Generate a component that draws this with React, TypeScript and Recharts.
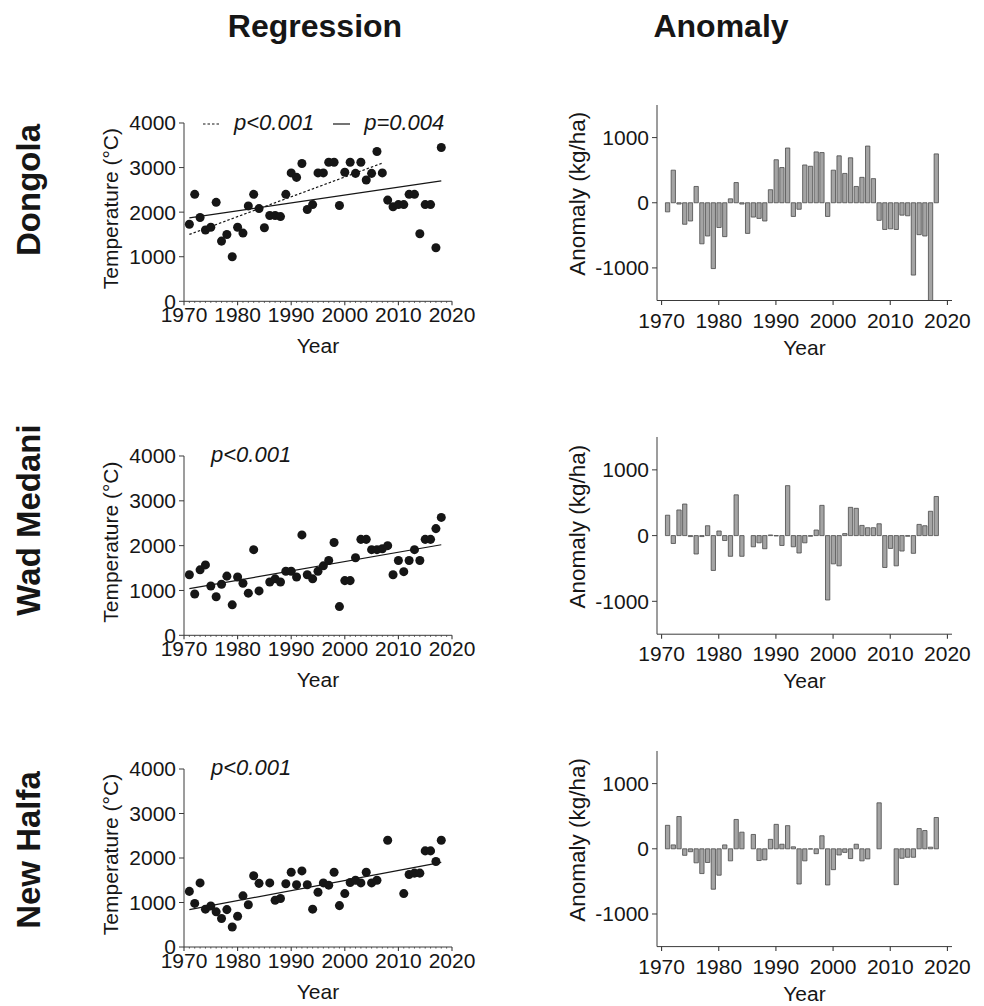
import React from 'react';
import { ComposedChart, BarChart, Scatter, Line, Bar, XAxis, YAxis, Legend } from 'recharts';

const FONT = '"Liberation Sans", Arial, Helvetica, sans-serif';

// ---------- categories ----------
const years = [
  1971, 1972, 1973, 1974, 1975, 1976, 1977, 1978, 1979, 1980,
  1981, 1982, 1983, 1984, 1985, 1986, 1987, 1988, 1989, 1990,
  1991, 1992, 1993, 1994, 1995, 1996, 1997, 1998, 1999, 2000,
  2001, 2002, 2003, 2004, 2005, 2006, 2007, 2008, 2009, 2010,
  2011, 2012, 2013, 2014, 2015, 2016, 2017, 2018,
];
const decadeTicks = [1970, 1980, 1990, 2000, 2010, 2020];
const tempTicks = [0, 1000, 2000, 3000, 4000];
const anomalyTicks = [-1000, 0, 1000];

const columnTitles = ['Regression', 'Anomaly'];
const stations = ['Dongola', 'Wad Medani', 'New Halfa'];

// ---------- series values ----------
const dongolaTemp = [
  1730, 2400, 1880, 1600, 1660, 2220, 1350, 1500, 1000, 1660,
  1530, 2140, 2400, 2080, 1650, 1925, 1925, 1900, 2400, 2880,
  2780, 3090, 2060, 2170, 2880, 2880, 3120, 3120, 2150, 2895,
  3120, 2870, 3120, 2720, 2870, 3360, 2880, 2270, 2120, 2170,
  2170, 2400, 2400, 1515, 2170, 2170, 1200, 3450,
];
const wadMedaniTemp = [
  1350, 920, 1460, 1570, 1100, 860, 1140, 1320, 680, 1300,
  1160, 940, 1910, 990, null, 1190, 1260, 1190, 1430, 1430,
  1300, 2240, 1350, 1260, 1430, 1550, 1670, 2070, 640, 1220,
  1220, 1730, 2140, 2140, 1910, 1910, 1930, 2000, 1350, 1670,
  1420, 1670, 1910, 1670, 2140, 2140, 2380, 2630,
];
const newHalfaTemp = [
  1250, 980, 1440, 850, 920, 790, 640, 840, 450, 690,
  1150, 950, 1600, 1430, null, 1440, 1050, 1090, 1420, 1680,
  1400, 1710, 1400, 850, 1230, 1440, 1390, 1680, 930, 1200,
  1450, 1500, 1440, 1680, 1440, 1500, null, 2400, null, null,
  1200, 1630, 1660, 1660, 2160, 2160, 1920, 2400,
];

const dongolaAnomaly = [
  -140, 500, -20, -330, -280, 250, -630, -510, -1010, -380,
  -520, 60, 310, -20, -470, -220, -240, -280, 200, 660,
  540, 840, -210, -100, 580, 560, 780, 770, -210, 500,
  720, 450, 690, 250, 390, 870, 370, -270, -410, -400,
  -410, -190, -200, -1110, -490, -510, -1500, 750,
];
const wadMedaniAnomaly = [
  310, -120, 390, 480, -15, -280, -15, 150, -530, 70,
  -75, -315, 620, -315, null, -170, -110, -200, 10, -5,
  -150, 760, -170, -265, -110, -10, 85, 460, -980, -430,
  -460, 30, 430, 415, 155, 120, 120, 180, -485, -195,
  -460, -235, -10, -270, 170, 150, 370, 595,
];
const newHalfaAnomaly = [
  360, 60, 495, -100, -45, -215, -380, -210, -620, -405,
  60, -185, 450, 255, null, 220, -180, -170, 145, 375,
  70, 355, 30, -540, -185, -5, -75, 200, -555, -320,
  -95, -55, -150, 70, -185, -155, null, 705, null, null,
  -550, -145, -130, -130, 310, 280, 25, 480,
];

// regression lines (fitted end points)
const dongolaFullYears = [1971, 2018];
const dongolaFullValues = [1870, 2700];
const dongolaEarlyYears = [1971, 2007];
const dongolaEarlyValues = [1500, 3100];
const wadMedaniFitYears = [1971, 2018];
const wadMedaniFitValues = [1040, 2020];
const newHalfaFitYears = [1971, 2018];
const newHalfaFitValues = [840, 1900];

// ---------- helpers ----------
const toPoints = (xs: number[], vs: (number | null)[]) =>
  xs.map((x, i) => ({ year: x, value: vs[i] })).filter((d) => d.value !== null);

const minorYears = Array.from({ length: 51 }, (_, i) => 1970 + i);

const INK = '#161616';
const AXIS = '#3a3a3a';

type TrendLine = { name: string; data: { year: number; value: number | null }[]; dash?: string; icon: boolean };

const ScatterXTick = (props: any) => {
  const { x, y, payload } = props;
  const v = payload.value;
  const major = v % 10 === 0;
  return (
    <g>
      <line x1={x} x2={x} y1={y} y2={y + (major ? 4 : 1.6)} stroke={AXIS} strokeWidth={major ? 1.1 : 0.8} />
      {major && (
        <text x={x} y={y + 20.5} textAnchor="middle" fontSize={21} fill={INK} fontFamily={FONT}>
          {v}
        </text>
      )}
    </g>
  );
};

const AnomalyXTick = (props: any) => {
  const { x, y, payload } = props;
  return (
    <g>
      <line x1={x} x2={x} y1={y} y2={y + 4.5} stroke={AXIS} strokeWidth={1.1} />
      <text x={x} y={y + 27} textAnchor="middle" fontSize={21} fill={INK} fontFamily={FONT}>
        {payload.value}
      </text>
    </g>
  );
};

const yLabel = (text: string, dx: number, dy: number, size: number) => (props: any) => {
  const vb = props.viewBox || {};
  const x = (vb.x || 0) + dx;
  const y = (vb.y || 0) + (vb.height || 0) / 2 + dy;
  return (
    <text x={x} y={y} transform={`rotate(-90 ${x} ${y})`} textAnchor="middle" fontSize={size} fill={INK} fontFamily={FONT}>
      {text}
    </text>
  );
};

const xLabel = (text: string, dy: number) => (props: any) => {
  const vb = props.viewBox || {};
  const x = (vb.x || 0) + (vb.width || 0) / 2;
  const y = (vb.y || 0) + dy;
  return (
    <text x={x} y={y} textAnchor="middle" fontSize={21} fill={INK} fontFamily={FONT}>
      {text}
    </text>
  );
};

const makeLegend = (lines: TrendLine[]) => (props: any) => {
  const payload = ((props.payload || []) as any[]).filter((e) => lines.some((l) => l.name === e.value));
  return (
    <div
      style={{
        display: 'flex',
        alignItems: 'center',
        fontFamily: FONT,
        fontStyle: 'italic',
        fontSize: 22,
        lineHeight: '22px',
        color: INK,
        whiteSpace: 'nowrap',
      }}
    >
      {payload.map((entry, i) => {
        const st = lines.find((l) => l.name === entry.value);
        return (
          <div key={i} style={{ display: 'flex', alignItems: 'center', marginRight: 19 }}>
            {st && st.icon && (
              <svg width={17} height={6} style={{ marginRight: 14, marginTop: 2 }}>
                <line x1={0} y1={3} x2={17} y2={3} stroke={INK} strokeWidth={1.2} strokeDasharray={st.dash} />
              </svg>
            )}
            <span>{entry.value}</span>
          </div>
        );
      })}
    </div>
  );
};

// ---------- panels ----------
const SC_LEFT = 60;
const SC_PLOT_LEFT = 184;
const SC_PLOT_RIGHT = 452;
const SC_W = 420;
const SC_TOPPAD = 40;
const SC_XAXIS_H = 60;

function ScatterPanel(p: {
  plotTop: number;
  plotBottom: number;
  points: { year: number; value: number | null }[];
  lines: TrendLine[];
  legendLeft: number;
  legendBaseline: number;
}) {
  const chartTop = p.plotTop - SC_TOPPAD;
  const height = SC_TOPPAD + (p.plotBottom - p.plotTop) + SC_XAXIS_H;
  return (
    <div style={{ position: 'absolute', left: SC_LEFT, top: chartTop }}>
      <ComposedChart
        width={SC_W}
        height={height}
        margin={{ top: SC_TOPPAD, right: SC_W - (SC_PLOT_RIGHT - SC_LEFT), bottom: 0, left: 0 }}
      >
        <XAxis
          dataKey="year"
          type="number"
          domain={[1970, 2020]}
          ticks={minorYears}
          interval={0}
          tickSize={0}
          tickMargin={0}
          tickLine={false}
          tick={<ScatterXTick />}
          stroke={AXIS}
          height={SC_XAXIS_H}
          allowDataOverflow
          label={{ content: xLabel('Year', 52) }}
        />
        <YAxis
          type="number"
          domain={[0, 4000]}
          ticks={tempTicks}
          interval={0}
          width={SC_PLOT_LEFT - SC_LEFT}
          tickSize={5}
          tickMargin={3}
          stroke={AXIS}
          tick={{ fontSize: 21, fill: INK, fontFamily: FONT }}
          allowDataOverflow
          label={{ content: yLabel('Temperature (°C)', 58, -3.5, 21) }}
        />
        <Legend
          layout="horizontal"
          verticalAlign="middle"
          align="center"
          content={makeLegend(p.lines)}
          wrapperStyle={{ left: p.legendLeft - SC_LEFT, top: p.legendBaseline - 18.6 - chartTop, width: 330, height: 24 }}
        />
        <Scatter data={p.points} dataKey="value" fill={INK} legendType="none" isAnimationActive={false} />
        {p.lines.map((l) => (
          <Line
            key={l.name}
            name={l.name}
            data={l.data}
            dataKey="value"
            type="linear"
            stroke={INK}
            strokeWidth={1.2}
            strokeDasharray={l.dash}
            dot={false}
            activeDot={false}
            legendType="plainline"
            isAnimationActive={false}
          />
        ))}
      </ComposedChart>
    </div>
  );
}

const AN_LEFT = 540;
const AN_PLOT_LEFT = 657;
const AN_PLOT_RIGHT = 952;
const AN_W = 444;
const AN_TOPPAD = 10;
const AN_XAXIS_H = 58;

function AnomalyPanel(p: { plotTop: number; plotBottom: number; bars: { year: number; value: number | null }[] }) {
  const chartTop = p.plotTop - AN_TOPPAD;
  const height = AN_TOPPAD + (p.plotBottom - p.plotTop) + AN_XAXIS_H;
  return (
    <div style={{ position: 'absolute', left: AN_LEFT, top: chartTop }}>
      <BarChart
        width={AN_W}
        height={height}
        data={p.bars}
        margin={{ top: AN_TOPPAD, right: AN_W - (AN_PLOT_RIGHT - AN_LEFT), bottom: 0, left: 0 }}
      >
        <XAxis
          dataKey="year"
          type="number"
          domain={[1969.2, 2020.8]}
          ticks={decadeTicks}
          interval={0}
          tickSize={0}
          tickMargin={0}
          tickLine={false}
          tick={<AnomalyXTick />}
          stroke={AXIS}
          height={AN_XAXIS_H}
          allowDataOverflow
          label={{ content: xLabel('Year', 54) }}
        />
        <YAxis
          type="number"
          domain={[-1500, 1500]}
          ticks={anomalyTicks}
          interval={0}
          width={AN_PLOT_LEFT - AN_LEFT}
          tickSize={5}
          tickMargin={3}
          stroke={AXIS}
          tick={{ fontSize: 21, fill: INK, fontFamily: FONT }}
          allowDataOverflow
          label={{ content: yLabel('Anomaly (kg/ha)', 45, -9, 22.5) }}
        />
        <Bar dataKey="value" barSize={4.3} fill="#a4a4a4" stroke="#4a4a4a" strokeWidth={0.8} isAnimationActive={false} />
      </BarChart>
    </div>
  );
}

// ---------- assembled data ----------
const dongolaLines: TrendLine[] = [
  { name: 'p<0.001', data: toPoints(dongolaEarlyYears, dongolaEarlyValues), dash: '2.5 2', icon: true },
  { name: 'p=0.004', data: toPoints(dongolaFullYears, dongolaFullValues), icon: true },
];
const wadMedaniLines: TrendLine[] = [
  { name: 'p<0.001', data: toPoints(wadMedaniFitYears, wadMedaniFitValues), icon: false },
];
const newHalfaLines: TrendLine[] = [
  { name: 'p<0.001', data: toPoints(newHalfaFitYears, newHalfaFitValues), icon: false },
];

const rowCenters = [190, 520, 850];

export default function App() {
  return (
    <div
      style={{
        position: 'absolute',
        left: 0,
        top: 0,
        width: 984,
        height: 1006,
        background: '#ffffff',
        fontFamily: FONT,
        overflow: 'hidden',
      }}
    >
      <svg width={984} height={1006} style={{ position: 'absolute', left: 0, top: 0 }}>
        <text x={315} y={37} textAnchor="middle" fontSize={32} fontWeight="bold" fill={INK} fontFamily={FONT}>
          {columnTitles[0]}
        </text>
        <text x={721} y={37} textAnchor="middle" fontSize={32} fontWeight="bold" fill={INK} fontFamily={FONT}>
          {columnTitles[1]}
        </text>
        {stations.map((s, i) => (
          <text
            key={s}
            x={40}
            y={rowCenters[i]}
            transform={`rotate(-90 40 ${rowCenters[i]})`}
            textAnchor="middle"
            fontSize={33}
            fontWeight="bold"
            fill={INK}
            fontFamily={FONT}
          >
            {s}
          </text>
        ))}
      </svg>

      <ScatterPanel
        plotTop={122.7}
        plotBottom={301}
        points={toPoints(years, dongolaTemp)}
        lines={dongolaLines}
        legendLeft={203}
        legendBaseline={131}
      />
      <ScatterPanel
        plotTop={455.7}
        plotBottom={635}
        points={toPoints(years, wadMedaniTemp)}
        lines={wadMedaniLines}
        legendLeft={211}
        legendBaseline={463}
      />
      <ScatterPanel
        plotTop={768.7}
        plotBottom={946.7}
        points={toPoints(years, newHalfaTemp)}
        lines={newHalfaLines}
        legendLeft={211}
        legendBaseline={776}
      />

      <AnomalyPanel plotTop={105} plotBottom={300.5} bars={toPoints(years, dongolaAnomaly)} />
      <AnomalyPanel plotTop={437.2} plotBottom={634.4} bars={toPoints(years, wadMedaniAnomaly)} />
      <AnomalyPanel plotTop={750.7} plotBottom={946.3} bars={toPoints(years, newHalfaAnomaly)} />
    </div>
  );
}
